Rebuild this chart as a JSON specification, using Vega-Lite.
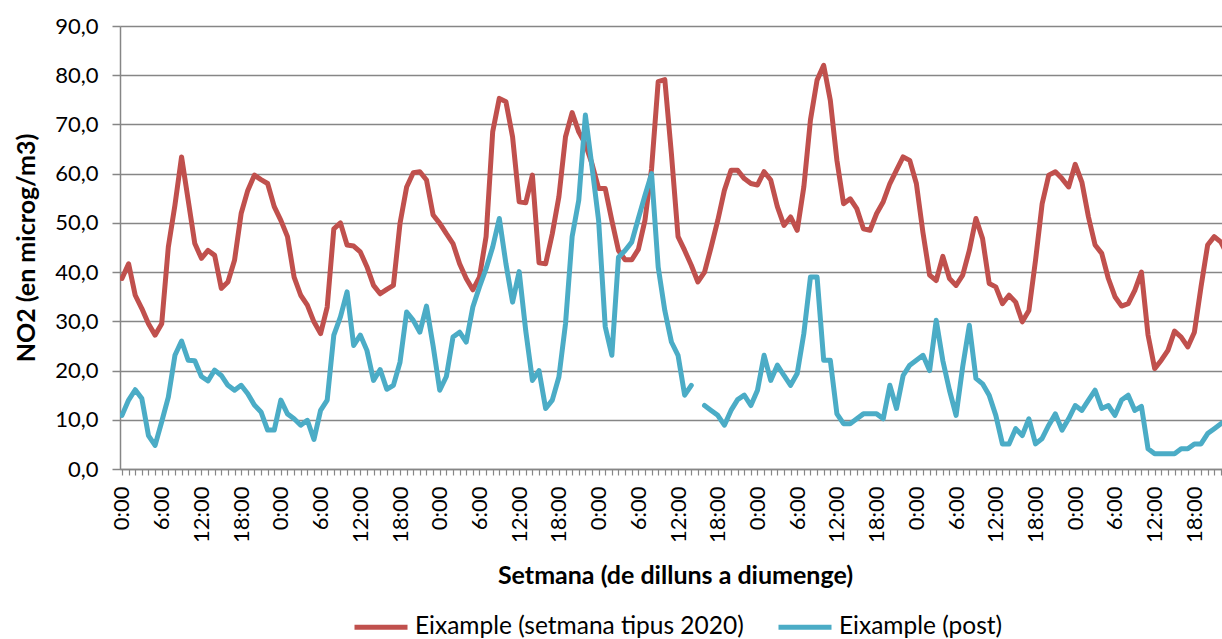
{
  "$schema": "https://vega.github.io/schema/vega-lite/v6.json",
  "width": 1102,
  "height": 443,
  "autosize": {"type": "none"},
  "padding": {"left": 120, "top": 26, "right": 0, "bottom": 170},
  "background": "white",
  "data": {"values": [
    {"h":0,"r":38.7,"b":10.9},{"h":1,"r":41.7,"b":14},{"h":2,"r":35.3,"b":16.1},{"h":3,"r":32.6,"b":14.3},{"h":4,"r":29.5,"b":6.8},{"h":5,"r":27.2,"b":4.8},
    {"h":6,"r":29.5,"b":9.6},{"h":7,"r":45.1,"b":14.6},{"h":8,"r":53.6,"b":23.1},{"h":9,"r":63.4,"b":26},{"h":10,"r":54.6,"b":22.1},{"h":11,"r":45.8,"b":22},
    {"h":12,"r":42.8,"b":18.8},{"h":13,"r":44.4,"b":17.9},{"h":14,"r":43.4,"b":20.1},{"h":15,"r":36.7,"b":19},{"h":16,"r":38,"b":17},{"h":17,"r":42.4,"b":16},
    {"h":18,"r":51.9,"b":17},{"h":19,"r":56.6,"b":15.3},{"h":20,"r":59.7,"b":13},{"h":21,"r":58.8,"b":11.6},{"h":22,"r":58,"b":7.9},{"h":23,"r":53.3,"b":7.9},
    {"h":24,"r":50.5,"b":14},{"h":25,"r":47.2,"b":11.2},{"h":26,"r":39,"b":10.2},{"h":27,"r":35.3,"b":8.9},{"h":28,"r":33.3,"b":9.9},{"h":29,"r":29.9,"b":6},
    {"h":30,"r":27.5,"b":11.9},{"h":31,"r":32.9,"b":14},{"h":32,"r":48.8,"b":27.2},{"h":33,"r":50,"b":30.9},{"h":34,"r":45.5,"b":36},{"h":35,"r":45.3,"b":25.1},
    {"h":36,"r":44.1,"b":27.2},{"h":37,"r":41.1,"b":24.1},{"h":38,"r":37.3,"b":18},{"h":39,"r":35.6,"b":20.2},{"h":40,"r":36.5,"b":16.2},{"h":41,"r":37.3,"b":17},
    {"h":42,"r":49.9,"b":21.7},{"h":43,"r":57.3,"b":31.9},{"h":44,"r":60.2,"b":30.2},{"h":45,"r":60.4,"b":27.8},{"h":46,"r":58.7,"b":33.1},{"h":47,"r":51.6,"b":25},
    {"h":48,"r":49.9,"b":16},{"h":49,"r":47.8,"b":18.8},{"h":50,"r":45.8,"b":26.8},{"h":51,"r":41.7,"b":27.8},{"h":52,"r":38.7,"b":25.8},{"h":53,"r":36.4,"b":32.9},
    {"h":54,"r":39,"b":37},{"h":55,"r":47.2,"b":40.7},{"h":56,"r":68.5,"b":45.1},{"h":57,"r":75.3,"b":50.9},{"h":58,"r":74.6,"b":41.7},{"h":59,"r":67.5,"b":33.9},
    {"h":60,"r":54.3,"b":40.1},{"h":61,"r":54.1,"b":28},{"h":62,"r":59.7,"b":18},{"h":63,"r":41.9,"b":20},{"h":64,"r":41.7,"b":12.3},{"h":65,"r":47.8,"b":14},
    {"h":66,"r":55.3,"b":18.7},{"h":67,"r":67.5,"b":29.5},{"h":68,"r":72.4,"b":47.2},{"h":69,"r":68.5,"b":54.6},{"h":70,"r":66,"b":71.9},{"h":71,"r":62,"b":61.4},
    {"h":72,"r":57,"b":50.5},{"h":73,"r":57,"b":28.9},{"h":74,"r":50.5,"b":23.1},{"h":75,"r":44.4,"b":43},{"h":76,"r":42.5,"b":44.4},{"h":77,"r":42.5,"b":46.1},
    {"h":78,"r":44.6,"b":50.9},{"h":79,"r":50.5,"b":55.6},{"h":80,"r":61,"b":60},{"h":81,"r":78.7,"b":41},{"h":82,"r":79.1,"b":32.2},{"h":83,"r":64,"b":25.8},
    {"h":84,"r":47.2,"b":23.1},{"h":85,"r":44.4,"b":15},{"h":86,"r":41.4,"b":17},{"h":87,"r":38,"b":null},{"h":88,"r":40,"b":12.9},{"h":89,"r":45.1,"b":11.9},
    {"h":90,"r":50.5,"b":10.9},{"h":91,"r":56.6,"b":8.9},{"h":92,"r":60.7,"b":11.9},{"h":93,"r":60.7,"b":14.1},{"h":94,"r":59,"b":15},{"h":95,"r":58,"b":12.9},
    {"h":96,"r":57.7,"b":16},{"h":97,"r":60.4,"b":23.1},{"h":98,"r":58.7,"b":18},{"h":99,"r":53.3,"b":21.1},{"h":100,"r":49.5,"b":19},{"h":101,"r":51.2,"b":17},
    {"h":102,"r":48.5,"b":19.4},{"h":103,"r":57.3,"b":27.5},{"h":104,"r":70.9,"b":39},{"h":105,"r":79,"b":39},{"h":106,"r":82,"b":22.1},{"h":107,"r":74.9,"b":22.1},
    {"h":108,"r":62.7,"b":11.2},{"h":109,"r":53.9,"b":9.2},{"h":110,"r":54.9,"b":9.2},{"h":111,"r":52.9,"b":10.2},{"h":112,"r":48.8,"b":11.2},{"h":113,"r":48.5,"b":11.2},
    {"h":114,"r":51.9,"b":11.2},{"h":115,"r":54.3,"b":10.2},{"h":116,"r":58,"b":17},{"h":117,"r":60.7,"b":12.3},{"h":118,"r":63.4,"b":19},{"h":119,"r":62.7,"b":21.1},
    {"h":120,"r":58,"b":22.1},{"h":121,"r":48,"b":23.1},{"h":122,"r":39.4,"b":20},{"h":123,"r":38.3,"b":30.2},{"h":124,"r":43.2,"b":22},{"h":125,"r":38.7,"b":16},
    {"h":126,"r":37.3,"b":10.9},{"h":127,"r":39.4,"b":20.8},{"h":128,"r":44.4,"b":29.2},{"h":129,"r":50.9,"b":18.4},{"h":130,"r":46.8,"b":17.3},{"h":131,"r":37.7,"b":15},
    {"h":132,"r":37,"b":10.9},{"h":133,"r":33.6,"b":5.1},{"h":134,"r":35.3,"b":5.1},{"h":135,"r":33.9,"b":8.2},{"h":136,"r":29.9,"b":6.8},{"h":137,"r":32.2,"b":10.2},
    {"h":138,"r":42.4,"b":5.1},{"h":139,"r":53.9,"b":6.2},{"h":140,"r":59.7,"b":8.9},{"h":141,"r":60.4,"b":11.2},{"h":142,"r":59,"b":7.9},{"h":143,"r":57.3,"b":10.2},
    {"h":144,"r":61.9,"b":12.9},{"h":145,"r":58.3,"b":11.9},{"h":146,"r":51.2,"b":14},{"h":147,"r":45.5,"b":16},{"h":148,"r":43.8,"b":12.3},{"h":149,"r":38.7,"b":12.9},
    {"h":150,"r":35,"b":10.9},{"h":151,"r":33.1,"b":14},{"h":152,"r":33.6,"b":15},{"h":153,"r":36.3,"b":11.9},{"h":154,"r":40,"b":12.7},{"h":155,"r":27.2,"b":4.1},
    {"h":156,"r":20.4,"b":3.1},{"h":157,"r":22.1,"b":3.1},{"h":158,"r":24.1,"b":3.1},{"h":159,"r":28,"b":3.1},{"h":160,"r":26.8,"b":4.1},{"h":161,"r":24.8,"b":4.1},
    {"h":162,"r":27.8,"b":5.1},{"h":163,"r":37,"b":5.1},{"h":164,"r":45.5,"b":7.2},{"h":165,"r":47.2,"b":8.2},{"h":166,"r":46.1,"b":9.2},{"h":167,"r":43.5,"b":10}
  ]},
  "transform": [{"fold": ["r", "b"], "as": ["serie", "v"]}],
  "mark": {"type": "line", "strokeWidth": 5, "strokeJoin": "round", "strokeCap": "round", "clip": true, "invalid": "break-paths-filter-domains"},
  "encoding": {
    "x": {
      "field": "h", "type": "quantitative",
      "scale": {"domain": [-0.3, 166.17], "nice": false, "zero": false},
      "axis": {
        "values": [0,1,2,3,4,5,6,7,8,9,10,11,12,13,14,15,16,17,18,19,20,21,22,23,24,25,26,27,28,29,30,31,32,33,34,35,36,37,38,39,40,41,42,43,44,45,46,47,48,49,50,51,52,53,54,55,56,57,58,59,60,61,62,63,64,65,66,67,68,69,70,71,72,73,74,75,76,77,78,79,80,81,82,83,84,85,86,87,88,89,90,91,92,93,94,95,96,97,98,99,100,101,102,103,104,105,106,107,108,109,110,111,112,113,114,115,116,117,118,119,120,121,122,123,124,125,126,127,128,129,130,131,132,133,134,135,136,137,138,139,140,141,142,143,144,145,146,147,148,149,150,151,152,153,154,155,156,157,158,159,160,161,162,163,164,165,166],
        "labelExpr": "datum.value % 6 == 0 ? (datum.value % 24) + ':00' : ''",
        "labelAngle": -90, "labelAlign": "right", "labelBaseline": "middle",
        "labelOverlap": false, "labelBound": false, "labelFlush": false,
        "labelFont": "Lato", "labelFontSize": 22, "labelColor": "#000000", "labelPadding": 11,
        "grid": false,
        "tickSize": 6, "tickColor": "#868686", "tickWidth": 1.2,
        "domainColor": "#868686", "domainWidth": 1.5,
        "title": "Setmana (de dilluns a diumenge)",
        "titleFont": "Lato", "titleFontSize": 25, "titleFontWeight": "bold", "titleColor": "#000000",
        "titleX": 555, "titleY": 114, "titleBaseline": "alphabetic", "titleAlign": "center"
      }
    },
    "y": {
      "field": "v", "type": "quantitative",
      "scale": {"domain": [0, 90], "nice": false},
      "axis": {
        "values": [0,10,20,30,40,50,60,70,80,90],
        "labelExpr": "replace(format(datum.value, '.1f'), '.', ',')",
        "labelFont": "Lato", "labelFontSize": 22, "labelColor": "#000000", "labelPadding": 14,
        "grid": true, "gridColor": "#868686", "gridWidth": 1.5,
        "domainColor": "#868686", "domainWidth": 1.5,
        "tickColor": "#868686", "tickWidth": 1.5, "tickSize": 8,
        "title": "NO2 (en microg/m3)",
        "titleFont": "Lato", "titleFontSize": 25, "titleFontWeight": "bold", "titleColor": "#000000",
        "titleX": -94, "titleY": 221.5, "titleAngle": -90, "titleBaseline": "middle", "titleAlign": "center"
      }
    },
    "color": {
      "field": "serie", "type": "nominal",
      "scale": {"domain": ["r", "b"], "range": ["#C0504D", "#4BACC6"]},
      "legend": {
        "orient": "none", "legendX": 232, "legendY": 572, "direction": "horizontal",
        "title": null, "padding": 0,
        "symbolType": "stroke", "symbolSize": 2809, "symbolStrokeWidth": 5,
        "labelFont": "Lato", "labelFontSize": 24.5, "labelColor": "#000000", "labelOffset": 5,
        "labelLimit": 1000, "columnPadding": 24,
        "labelExpr": "datum.label == 'r' ? 'Eixample (setmana tipus 2020)' : 'Eixample (post)'"
      }
    }
  },
  "config": {"view": {"stroke": null}}
}
